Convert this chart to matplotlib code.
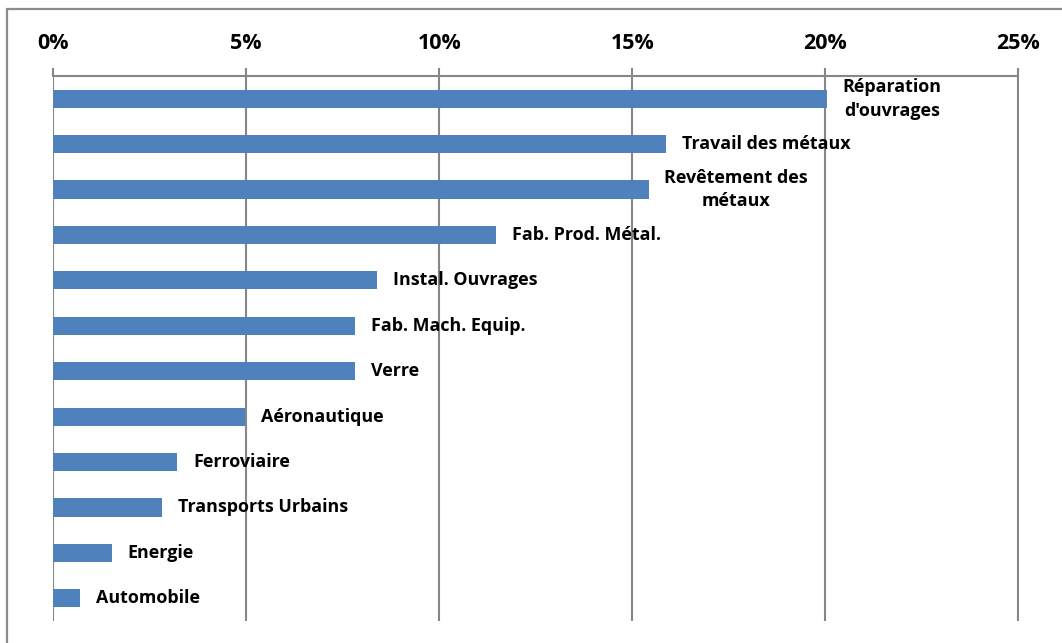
import matplotlib
matplotlib.use("Agg")
import matplotlib.pyplot as plt
from matplotlib.patches import Rectangle
from matplotlib.ticker import FuncFormatter

categories = ["Réparation\nd'ouvrages", "Travail des métaux", "Revêtement des\nmétaux",
              "Fab. Prod. Métal.", "Instal. Ouvrages", "Fab. Mach. Equip.", "Verre",
              "Aéronautique", "Ferroviaire", "Transports Urbains", "Energie", "Automobile"]
values = [20.03, 15.88, 15.42, 11.47, 8.38, 7.83, 7.82, 4.97, 3.21, 2.82, 1.52, 0.70]
xticks = [0, 5, 10, 15, 20, 25]

FONT = "Open Sans"

W, H = 1062, 643
fig = plt.figure(figsize=(W / 100, H / 100), dpi=100)
fig.patch.set_facecolor("white")

# outer frame
fig.patches.append(Rectangle((7 / W, -0.1), 1.2, 1 - 9 / H + 0.1, transform=fig.transFigure,
                             fill=False, edgecolor="#8c8c8c", linewidth=1.6, zorder=0))

ax = fig.add_axes([53 / W, 1 - 621 / H, (1018.5 - 53) / W, (621 - 76) / H])
ypos = list(range(len(categories)))
ax.barh(ypos, values, height=0.4, color="#4F81BD", zorder=3)
ax.set_xlim(0, 25)
ax.set_ylim(len(categories) - 0.5, -0.5)

ax.xaxis.tick_top()
ax.set_xticks(xticks)
ax.xaxis.set_major_formatter(FuncFormatter(lambda v, p: f"{v:.0f}%"))
ax.tick_params(axis="x", direction="out", length=6, width=1.5, color="#868686", pad=10,
               labelsize=15.5)
for lab in ax.get_xticklabels():
    lab.set_fontweight("bold")
    lab.set_fontfamily(FONT)
ax.set_yticks([])
ax.grid(axis="x", color="#868686", linewidth=1.5, zorder=1)
for s in ["left", "right", "bottom"]:
    ax.spines[s].set_visible(False)
ax.spines["top"].set_color("#868686")
ax.spines["top"].set_linewidth(1.5)

for y, v, c in zip(ypos, values, categories):
    ax.annotate(c, xy=(v, y), xytext=(11.5, 0), textcoords="offset points",
                ha="left", va="center", multialignment="center",
                fontsize=12.9, fontweight="bold", fontfamily=FONT, color="#000000",
                linespacing=1.4, zorder=4)

fig.savefig("out.png", dpi=100)
